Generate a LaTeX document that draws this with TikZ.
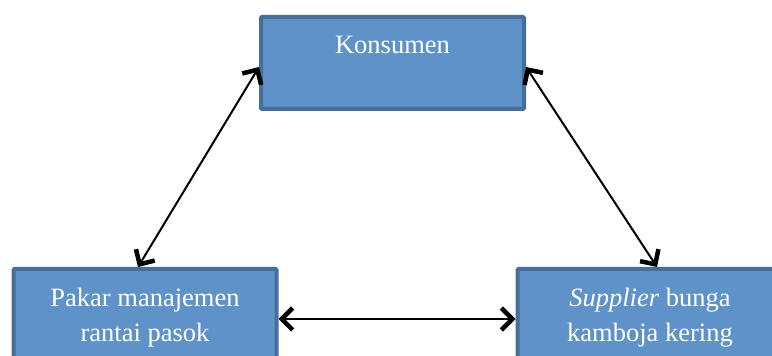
\documentclass[tikz,border=0pt]{standalone}
\usepackage{fontspec}
\setmainfont{Liberation Serif}
\usetikzlibrary{arrows.meta}
\definecolor{boxfill}{RGB}{94,146,200}
\definecolor{boxline}{RGB}{70,110,155}
\tikzset{
  blockbox/.style={draw=boxline, fill=boxfill, line width=4pt, minimum width=263pt, minimum height=92pt, inner sep=0pt, rounded corners=1pt},
  boxtext/.style={text=white, font=\fontsize{26.5}{35}\selectfont, align=center, inner sep=0pt},
  link/.style={line width=2pt, {Straight Barb[length=11pt,width=22pt,line width=4.5pt]}-{Straight Barb[length=11pt,width=22pt,line width=4.5pt]}}
}
\begin{document}
\begin{tikzpicture}[x=1pt,y=1pt]
\useasboundingbox (0,0) rectangle (772,356);
\clip (0,0) rectangle (772,356);
\node[blockbox] (k) at (392.5,293) {};
\node[boxtext] (kt) at (392.5,311) {Konsumen};
\node[blockbox] (p) at (145,41) {};
\node[boxtext] (pt) at (145,38) {Pakar manajemen\\rantai pasok};
\node[blockbox] (s) at (649,41) {};
\node[boxtext] (st) at (650,38) {\textit{Supplier} bunga\\kamboja kering};
\draw[link] ([yshift=-4pt]k.west) -- ([xshift=-7pt]p.north);
\draw[link] ([yshift=-4pt]k.east) -- ([xshift=8pt]s.north);
\draw[link] ([yshift=-4pt]p.east) -- ([yshift=-4pt]s.west);
\end{tikzpicture}
\end{document}
